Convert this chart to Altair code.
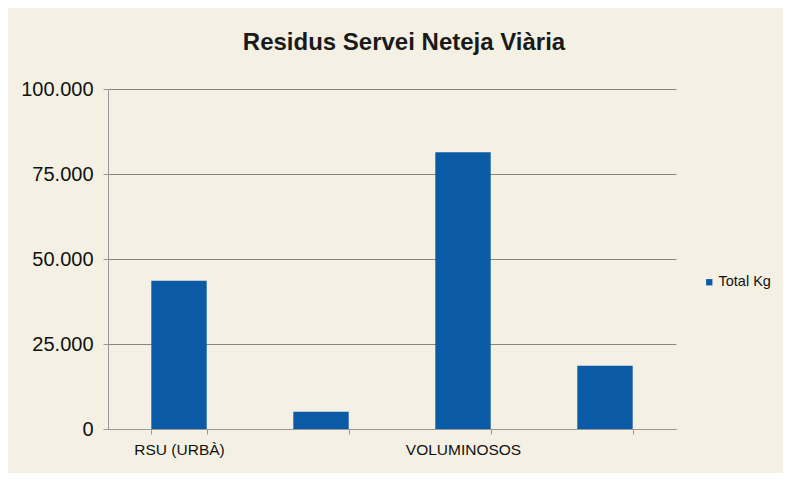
import altair as alt
import pandas as pd

categories = ["RSU (URBÀ)", "cat2", "VOLUMINOSOS", "cat4"]
shown_labels = ["RSU (URBÀ)", "", "VOLUMINOSOS", ""]
values = [43600, 5100, 81400, 18600]
series = ["Total Kg"] * 4

df = pd.DataFrame({"cat": categories, "label": shown_labels, "kg": values, "serie": series})

label_map = "{" + ",".join(f"'{c}':'{l}'" for c, l in zip(categories, shown_labels)) + "}"

font = "Liberation Sans"

chart = alt.Chart(df).mark_bar(color="#0a5aa6").encode(
    x=alt.X("cat:N", sort=categories, title=None,
            scale=alt.Scale(paddingInner=0.61, paddingOuter=0.305),
            axis=alt.Axis(labelAngle=0, labelExpr=label_map + "[datum.value]",
                          labelFontSize=15.5, labelFont=font, labelColor="#111",
                          labelPadding=8, tickBand="extent", tickSize=5,
                          tickColor="#999", domainColor="#999", grid=False)),
    y=alt.Y("kg:Q", title=None,
            scale=alt.Scale(domain=[0, 100000], nice=False),
            axis=alt.Axis(values=[0, 25000, 50000, 75000, 100000],
                          labelExpr="replace(format(datum.value, ',d'), ',', '.')",
                          labelFontSize=20, labelFont=font, labelColor="#111",
                          labelPadding=10, tickSize=5, tickColor="#999",
                          domainColor="#999", gridColor="#86867f", gridWidth=1)),
    color=alt.Color("serie:N", scale=alt.Scale(range=["#0a5aa6"]),
                    legend=alt.Legend(title=None, orient="none", legendX=594, legendY=186,
                                      symbolType="square", symbolSize=40,
                                      labelFontSize=14.5, labelFont=font, labelColor="#111",
                                      labelOffset=2)),
).properties(
    width=568,
    height=340,
    autosize=alt.AutoSizeParams(type="none"),
    padding={"left": 100, "top": 81, "right": 107, "bottom": 44},
    background="#f4f1e4",
    title=alt.TitleParams("Residus Servei Neteja Viària", fontSize=24, font=font,
                          fontWeight="bold", color="#1a1a1a", anchor="middle",
                          offset=24, dx=12),
).configure_view(stroke=None)

chart.save("out.html", embed_options={"renderer": "svg", "actions": False})
